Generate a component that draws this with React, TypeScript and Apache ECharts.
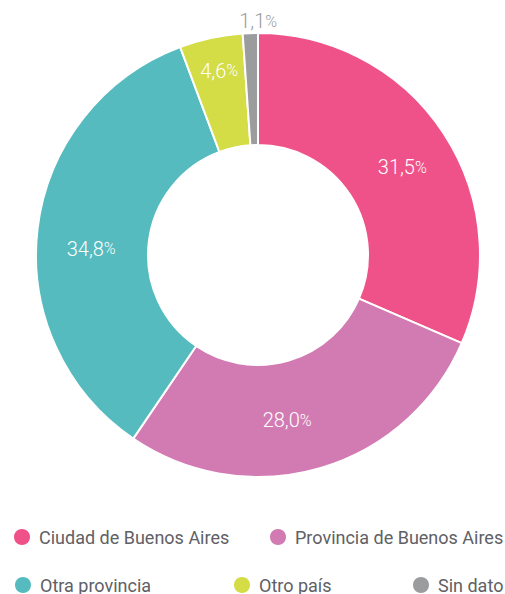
import React, { useEffect, useRef } from "react";
import * as echarts from "echarts";

const categories = ["Ciudad de Buenos Aires", "Provincia de Buenos Aires", "Otra provincia", "Otro país", "Sin dato"];
const values = [31.5, 28.0, 34.8, 4.6, 1.1];
const colors = ["#EF5289", "#D27BB3", "#55BBBE", "#D4DC46", "#9B9C9E"];

// styling: label nudges and legend placements
const labelNudge = [[3, 5], [-18, 3], [1, 14], [-3, -19], [13, -8]];
const legendPlaces = [[12, 527], [268, 527], [13, 575], [232, 575], [411, 575]];

const fmt = (v: number) => v.toFixed(1).replace(".", ",");

export default function App() {
  const ref = useRef<HTMLDivElement>(null);
  useEffect(() => {
    const chart = echarts.init(ref.current!, null, { renderer: "svg" });
    const legendText = { fontFamily: "Roboto", fontSize: 18, fontWeight: 400, color: "#606065", padding: [0, 0, 0, 3] };
    chart.setOption({
      animation: false,
      color: colors,
      legend: categories.map((name, i) => ({
        data: [name],
        left: legendPlaces[i][0],
        top: legendPlaces[i][1],
        padding: 0,
        itemWidth: 18,
        itemHeight: 18,
        icon: "circle",
        textStyle: legendText,
        selectedMode: false,
      })),
      series: [
        {
          type: "pie",
          center: [258, 255],
          radius: [110, 222],
          startAngle: 90,
          clockwise: true,
          itemStyle: { borderColor: "#fff", borderWidth: 2 },
          label: {
            position: "inside",
            formatter: (p: any) => `{a|${fmt(p.value)}}{b|%}`,
            rich: {
              a: { fontFamily: "Roboto", fontSize: 20, fontWeight: 300, color: "#fff" },
              b: { fontFamily: "Roboto", fontSize: 16, fontWeight: 300, color: "#fff" },
            },
          },
          labelLine: { show: false },
          labelLayout: (p: any) => {
            const n = labelNudge[p.dataIndex];
            const o: any = { dx: n[0], dy: n[1] };
            if (p.dataIndex === 4) o.align = "center";
            return o;
          },
          emphasis: { disabled: true },
          data: categories.map((name, i) => {
            const d: any = { name, value: values[i] };
            if (i === 4) {
              d.label = {
                position: "outside",
                rich: {
                  a: { fontFamily: "Roboto", fontSize: 20, fontWeight: 300, color: "#9B9C9E" },
                  b: { fontFamily: "Roboto", fontSize: 16, fontWeight: 300, color: "#9B9C9E" },
                },
              };
              d.labelLine = { show: false, length: 4, length2: 0 };
            }
            return d;
          }),
        },
      ],
    });
    return () => chart.dispose();
  }, []);
  return <div ref={ref} style={{ width: 505, height: 594, position: "absolute", left: 0, top: 0 }} />;
}
